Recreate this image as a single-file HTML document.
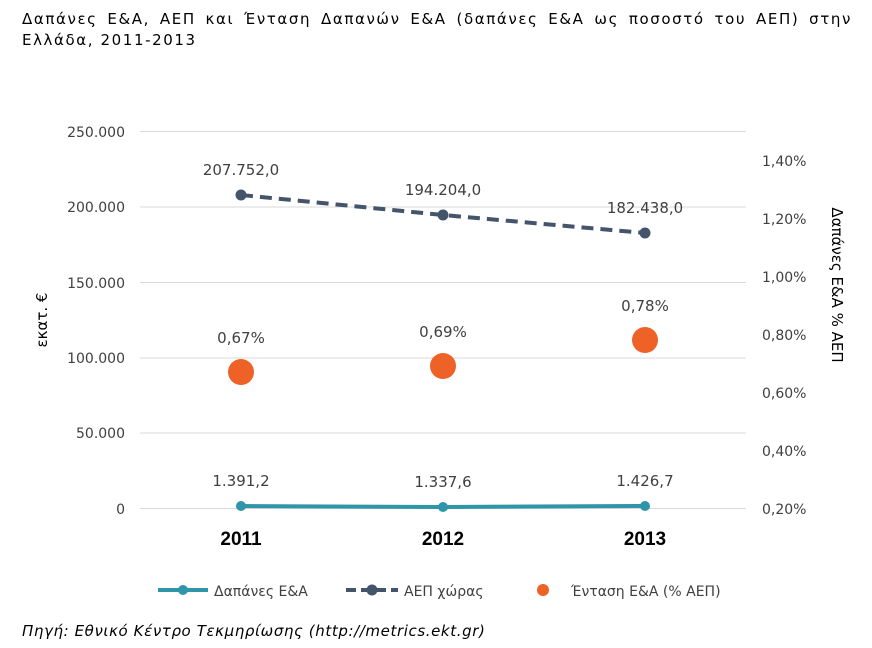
<!DOCTYPE html>
<html><head><meta charset="utf-8"><style>
body{margin:0;background:#fff;width:872px;height:648px;overflow:hidden;font-family:"DejaVu Sans","Liberation Sans",sans-serif;}
.t{position:absolute;left:22px;width:830px;font-size:15px;line-height:21px;color:#000;white-space:nowrap;letter-spacing:1.6px;}
.l1{top:9px;text-align:justify;text-align-last:justify;white-space:normal;}
.l2{top:30px;}
</style></head><body>
<div class="t l1">Δαπάνες Ε&amp;Α, ΑΕΠ και Ένταση Δαπανών Ε&amp;Α (δαπάνες Ε&amp;Α ως ποσοστό του ΑΕΠ) στην</div>
<div class="t l2">Ελλάδα, 2011-2013</div>
<svg width="872" height="648" style="position:absolute;left:0;top:0" font-family="'DejaVu Sans',sans-serif">
<g stroke="#d9d9d9" stroke-width="1">
<line x1="140" x2="746" y1="131.5" y2="131.5"/><line x1="140" x2="746" y1="207" y2="207"/>
<line x1="140" x2="746" y1="282.5" y2="282.5"/><line x1="140" x2="746" y1="358" y2="358"/>
<line x1="140" x2="746" y1="433" y2="433"/><line x1="140" x2="746" y1="508.5" y2="508.5"/>
</g>
<g font-size="14" fill="#404040" text-anchor="end">
<text x="125" y="137">250.000</text><text x="125" y="212">200.000</text><text x="125" y="288">150.000</text>
<text x="125" y="363">100.000</text><text x="125" y="438">50.000</text><text x="125" y="514">0</text>
</g>
<g font-size="14" fill="#404040">
<text x="762" y="166">1,40%</text><text x="762" y="224">1,20%</text><text x="762" y="282">1,00%</text>
<text x="762" y="340">0,80%</text><text x="762" y="398">0,60%</text><text x="762" y="456">0,40%</text><text x="762" y="514">0,20%</text>
</g>
<text transform="translate(47,320) rotate(-90)" font-size="15" fill="#000" text-anchor="middle">εκατ. €</text>
<text transform="translate(832,285) rotate(90)" font-size="15" fill="#000" text-anchor="middle">Δαπάνες Ε&amp;Α % ΑΕΠ</text>
<g font-size="19" font-weight="bold" fill="#000" text-anchor="middle" font-family="'Liberation Sans',sans-serif">
<text x="241" y="545">2011</text><text x="443" y="545">2012</text><text x="645" y="545">2013</text></g>
<polyline points="241,195 443,215 645,233" fill="none" stroke="#44546a" stroke-width="4" stroke-dasharray="12,7"/>
<g fill="#44546a"><circle cx="241" cy="195" r="5.5"/><circle cx="443" cy="215" r="5.5"/><circle cx="645" cy="233" r="5.5"/></g>
<polyline points="241,506 443,507 645,506" fill="none" stroke="#2e96a8" stroke-width="4"/>
<g fill="#2e96a8"><circle cx="241" cy="506" r="5"/><circle cx="443" cy="507" r="5"/><circle cx="645" cy="506" r="5"/></g>
<g fill="#ee6127"><circle cx="241" cy="372" r="13"/><circle cx="443" cy="366" r="13"/><circle cx="645" cy="340" r="13"/></g>
<g font-size="15" fill="#404040" text-anchor="middle">
<text x="241" y="175">207.752,0</text><text x="443" y="195">194.204,0</text><text x="645" y="213">182.438,0</text>
<text x="241" y="343">0,67%</text><text x="443" y="337">0,69%</text><text x="645" y="311">0,78%</text>
<text x="241" y="486">1.391,2</text><text x="443" y="487">1.337,6</text><text x="645" y="486">1.426,7</text>
</g>
<line x1="158" x2="208" y1="590" y2="590" stroke="#2e96a8" stroke-width="4"/><circle cx="183" cy="590" r="5" fill="#2e96a8"/>
<text x="214" y="596" font-size="14" fill="#404040">Δαπάνες Ε&amp;Α</text>
<line x1="346" x2="398" y1="590" y2="590" stroke="#44546a" stroke-width="4" stroke-dasharray="10,5"/><circle cx="372" cy="590" r="5.5" fill="#44546a"/>
<text x="404" y="596" font-size="14" fill="#404040">ΑΕΠ χώρας</text>
<circle cx="543" cy="590" r="6" fill="#ee6127"/>
<text x="571" y="596" font-size="14" fill="#404040">Ένταση Ε&amp;Α (% ΑΕΠ)</text>
<text x="22" y="636" font-size="15" letter-spacing="0.6" font-style="italic" fill="#000">Πηγή: Εθνικό Κέντρο Τεκμηρίωσης (http://metrics.ekt.gr)</text>
</svg>
</body></html>
